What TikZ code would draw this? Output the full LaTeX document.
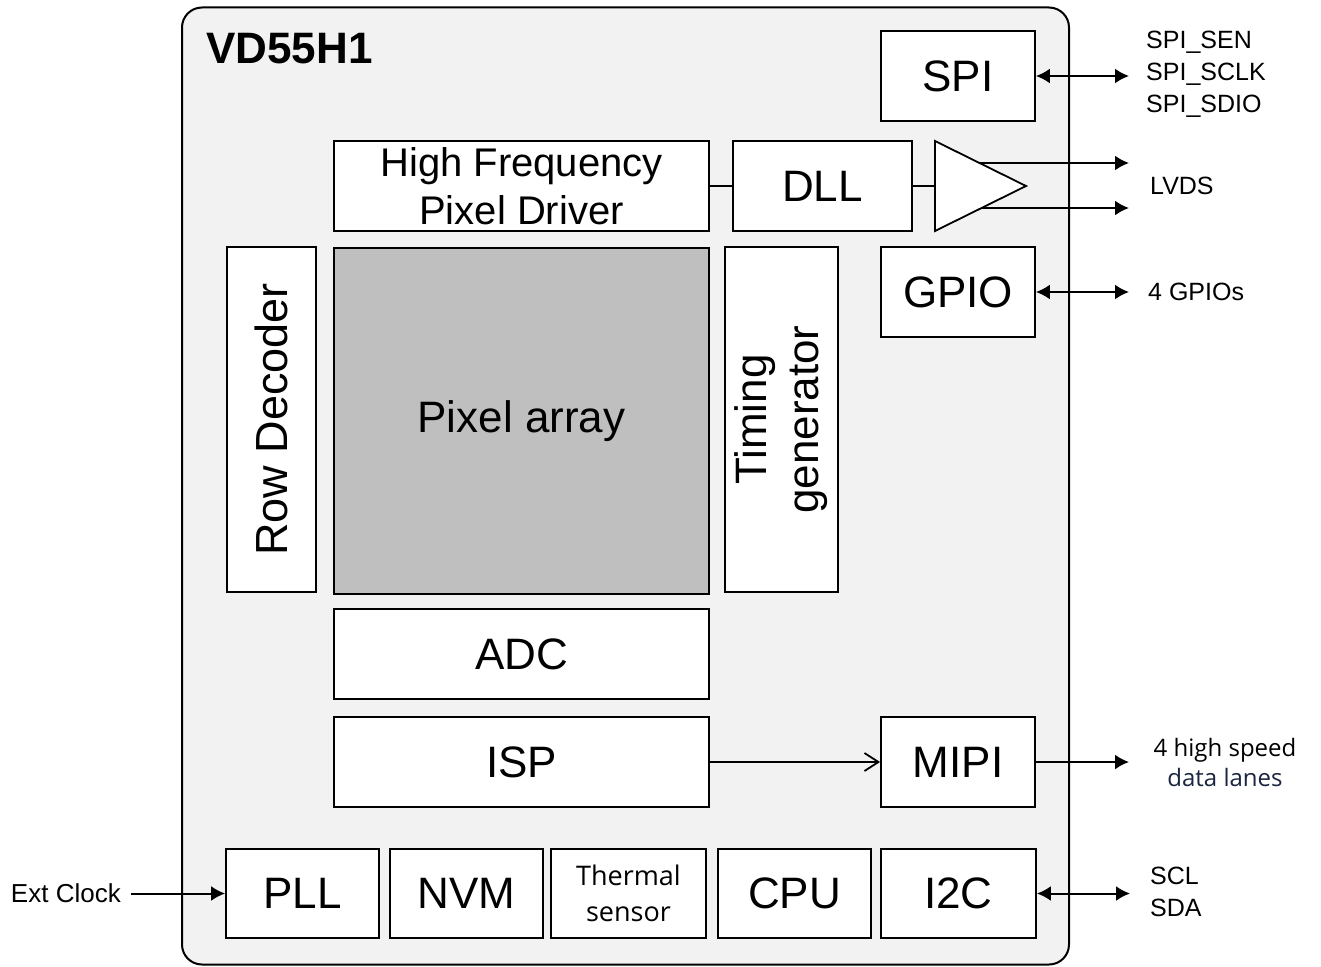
\documentclass[tikz,border=0pt]{standalone}
\usepackage{fontspec}
\setmainfont{Liberation Sans}
\newfontfamily\osans{Open Sans}
\usetikzlibrary{arrows.meta}
\definecolor{chipfill}{HTML}{F2F2F2}
\definecolor{pixgray}{HTML}{BFBFBF}
\definecolor{navy}{HTML}{1A2540}
\begin{document}
\begin{tikzpicture}[x=1pt,y=-1pt,
  blk/.style={draw=black, line width=1.8pt, fill=white, inner sep=0pt, align=center, font=\fontsize{44}{52}\selectfont},
  sig/.style={inner sep=0pt, align=left, font=\fontsize{25}{32}\selectfont},
  io/.style={line width=2pt, -{Latex[length=14pt,width=15pt]}},
  bio/.style={line width=2pt, {Latex[length=14pt,width=15pt]}-{Latex[length=14pt,width=15pt]}},
  wire/.style={line width=1.8pt}]
\useasboundingbox[fill=white] (0,0) rectangle (1321,966);
% chip outline
\node[draw=black, line width=2pt, fill=chipfill, rounded corners=20pt, minimum width=887pt, minimum height=957pt, inner sep=0pt] (chip) at (625.5,486) {};
\node[anchor=west, inner sep=0pt, font=\bfseries\fontsize{44}{50}\selectfont] (title) at (206,49) {VD55H1};
% blocks
\node[blk, minimum width=154pt, minimum height=90pt] (spi) at (958,76) {SPI};
\node[blk, minimum width=375pt, minimum height=90pt, font=\fontsize{40}{48}\selectfont] (hfpd) at (521.5,186) {High Frequency\\Pixel Driver};
\node[blk, minimum width=179pt, minimum height=90pt] (dll) at (822.5,186) {DLL};
\node[blk, minimum width=154pt, minimum height=90pt] (gpio) at (958,292) {GPIO};
\node[blk, rotate=90, minimum width=345pt, minimum height=89pt, font=\fontsize{45}{52}\selectfont] (rowdec) at (271.5,419.5) {Row Decoder};
\node[blk, fill=pixgray, minimum width=375pt, minimum height=346pt] (pix) at (521.5,421) {Pixel array};
\node[blk, rotate=90, minimum width=345pt, minimum height=113pt] (timing) at (781.5,419.5) {Timing\\generator};
\node[blk, minimum width=375pt, minimum height=90pt] (adc) at (521.5,654) {ADC};
\node[blk, minimum width=375pt, minimum height=90pt] (isp) at (521.5,762) {ISP};
\node[blk, minimum width=154pt, minimum height=90pt] (mipi) at (958,762) {MIPI};
\node[blk, minimum width=153pt, minimum height=89pt] (pll) at (302.5,893.5) {PLL};
\node[blk, minimum width=153pt, minimum height=89pt] (nvm) at (466.5,893.5) {NVM};
\node[blk, minimum width=155pt, minimum height=89pt, font=\osans\fontsize{27}{36}\selectfont] (therm) at (628.5,893.5) {Thermal\\sensor};
\node[blk, minimum width=153pt, minimum height=89pt] (cpu) at (794.5,893.5) {CPU};
\node[blk, minimum width=155pt, minimum height=89pt] (i2c) at (958.5,893.5) {I2C};
% LVDS buffer
\coordinate (bufT) at (935,141);
\coordinate (bufB) at (935,231);
\coordinate (bufTip) at (1026,186);
\coordinate (bufL) at (935,186);
\draw[wire, fill=white] (bufT) -- (bufTip) -- (bufB) -- cycle;
% external labels
\node[sig, anchor=west] (spilab) at (1146,74) {SPI\_SEN\\SPI\_SCLK\\SPI\_SDIO};
\node[sig, anchor=west] (lvdslab) at (1150,186) {LVDS};
\node[sig, anchor=west] (gpiolab) at (1148,292) {4 GPIOs};
\node[inner sep=0pt, align=center, font=\osans\fontsize{24}{30}\selectfont] (mipilab) at (1225,762) {4 high speed\\\textcolor{navy}{data lanes}};
\node[sig, anchor=west] (i2clab) at (1150,892) {SCL\\SDA};
\node[sig, anchor=east, font=\fontsize{26}{32}\selectfont] (extlab) at (121,893) {Ext Clock};
% free ends
\coordinate (spiR) at (1129,76);
\coordinate (lv1s) at (979.5,163);
\coordinate (lv1e) at (1129,163);
\coordinate (lv2s) at (981.5,208);
\coordinate (lv2e) at (1129,208);
\coordinate (gpioR) at (1129,292);
\coordinate (mipiR) at (1129,762);
\coordinate (i2cR) at (1130,893.5);
\coordinate (extL) at (131,893.5);
% connectors
\draw[wire] (hfpd.east) -- (dll.west);
\draw[wire] (dll.east) -- (bufL);
\draw[io] (lv1s) -- (lv1e);
\draw[io] (lv2s) -- (lv2e);
\draw[bio] (spi.east) -- (spiR);
\draw[bio] (gpio.east) -- (gpioR);
\draw[line width=1.8pt, -{Straight Barb[length=14pt,width=18pt]}] (isp.east) -- (mipi.west);
\draw[io] (mipi.east) -- (mipiR);
\draw[bio] (i2c.east) -- (i2cR);
\draw[io] (extL) -- (pll.west);
\end{tikzpicture}
\end{document}
